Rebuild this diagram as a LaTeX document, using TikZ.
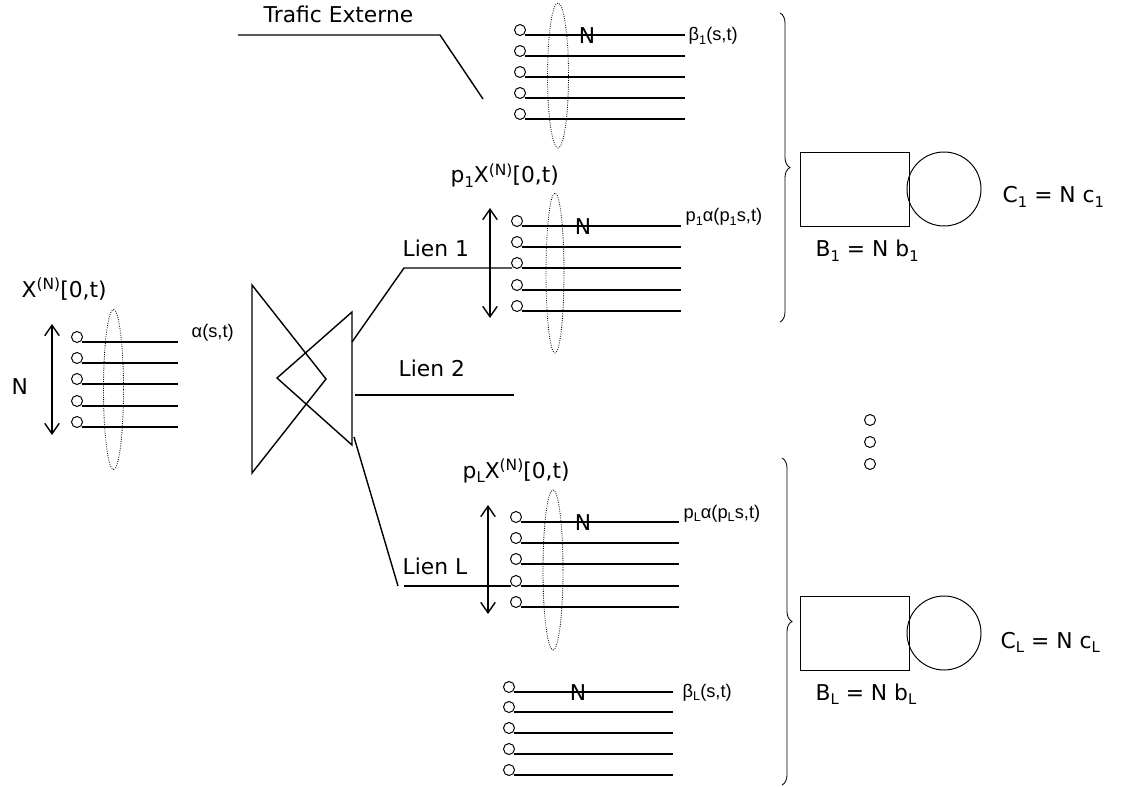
\documentclass[tikz,border=0pt]{standalone}
\usepackage{fontspec}
\setmainfont{DejaVu Sans}
\newfontfamily\petitefonte{Liberation Sans}
\usetikzlibrary{arrows.meta,decorations.pathreplacing}
\newcommand{\bas}[1]{\raisebox{-.35ex}{\fontsize{10.5}{10}\selectfont #1}}
\newcommand{\haut}[1]{\raisebox{.6ex}{\fontsize{11}{10}\selectfont #1}}
\newcommand{\pbas}[1]{\raisebox{-.35ex}{\fontsize{9}{9}\selectfont #1}}

\begin{document}
\begin{tikzpicture}[x=0.025cm,y=-0.025cm,line width=1pt,
	grand/.style={font=\fontsize{15.5}{18}\selectfont,inner sep=0pt,anchor=base west},
	petit/.style={font=\petitefonte\fontsize{13}{15}\selectfont,inner sep=0pt,anchor=base west},
	fin/.style={line width=0.7pt},
	dbl/.style={>={Straight Barb[length=2.6mm,width=3.6mm]},<->},
	anneau/.style={densely dotted,line width=0.6pt},
	accolade/.style={decorate,decoration={brace,amplitude=0.25cm},line width=0.6pt}]

	\useasboundingbox (0,0) rectangle (1122,787);

	% faisceaux de N lignes
	\foreach \y in {342,363,384,406,427}{
		\draw[fin] (77,\y-5) circle [radius=5.5];
		\draw (82,\y) -- (178,\y);}
	\foreach \y in {35,56,77,98,119}{
		\draw[fin] (520,\y-5) circle [radius=5.5];
		\draw (525,\y) -- (685,\y);}
	\foreach \y in {226,247,268,290,311}{
		\draw[fin] (517,\y-5) circle [radius=5.5];
		\draw (522,\y) -- (681,\y);}
	\foreach \y in {522,543,564,586,607}{
		\draw[fin] (516,\y-5) circle [radius=5.5];
		\draw (521,\y) -- (679,\y);}
	\foreach \y in {692,712,733,754,775}{
		\draw[fin] (509,\y-5) circle [radius=5.5];
		\draw (514,\y) -- (673,\y);}

	\draw[anneau] (113.5,389.5) ellipse [x radius=10,y radius=80];
	\draw[anneau] (558,75.5) ellipse [x radius=10.5,y radius=72.5];
	\draw[anneau] (555,273) ellipse [x radius=9,y radius=80];
	\draw[anneau] (553,570) ellipse [x radius=10,y radius=80];

	\draw[dbl] (52,324) -- (52,435);
	\draw[dbl] (490,208) -- (490,318);
	\draw[dbl] (488,505) -- (488,614);

	% commutateur
	\draw (252,285) -- (326,379) -- (252,473) -- cycle;
	\draw (352,312) -- (277,378) -- (352,445) -- cycle;

	% liens
	\draw (352,342) -- (404,268) -- (512,268);
	\draw (355,395) -- (514,395);
	\draw (354,437) -- (398,586);
	\draw (404,586) -- (511,586);
	\draw (238,35) -- (440,35) -- (483,99);

	% files d'attente
	\draw[fin] (800,152) rectangle (909,226);
	\draw[fin] (944,189) circle [radius=37];
	\draw[fin] (800,596) rectangle (909,670);
	\draw[fin] (944,633) circle [radius=37];
	\foreach \y in {420,442,464}
		\draw[fin] (870,\y) circle [radius=5.5];

	\draw[accolade] (780,13) -- (780,322);
	\draw[accolade] (782,458) -- (782,785);

	\node[grand] (trafic) at (263,23) {Trafic Externe};
	\node[grand] (xn) at (21,297) {X\haut{(N)}[0,t)};
	\node[grand] (nleft) at (11,394) {N};
	\node[petit] (alpha) at (191,337) {α(s,t)};
	\node[petit] (beta1) at (688,41) {β\pbas{1}(s,t)};
	\node[grand] (p1x) at (450,183) {p\bas{1}X\haut{(N)}[0,t)};
	\node[petit] (p1a) at (685,222) {p\pbas{1}α(p\pbas{1}s,t)};
	\node[grand] (lien1) at (402,257) {Lien 1};
	\node[grand] (lien2) at (398,376) {Lien 2};
	\node[grand] (lienL) at (402,574) {Lien L};
	\node[grand] (pLx) at (462,478) {p\bas{L}X\haut{(N)}[0,t)};
	\node[petit] (pLa) at (683,518) {p\pbas{L}α(p\pbas{L}s,t)};
	\node[petit] (betaL) at (682,697) {β\pbas{L}(s,t)};

	\node[grand,anchor=center] (n1) at (587,36) {N};
	\node[grand,anchor=center] (n2) at (583,227) {N};
	\node[grand,anchor=center] (n3) at (583,523) {N};
	\node[grand,anchor=center] (n4) at (578,693) {N};

	\node[grand] (c1) at (1002,203) {C\bas{1} = N c\bas{1}};
	\node[grand] (b1) at (815,257) {B\bas{1} = N b\bas{1}};
	\node[grand] (cL) at (1000,648) {C\bas{L} = N c\bas{L}};
	\node[grand] (bL) at (815,700) {B\bas{L} = N b\bas{L}};

\end{tikzpicture}
\end{document}
